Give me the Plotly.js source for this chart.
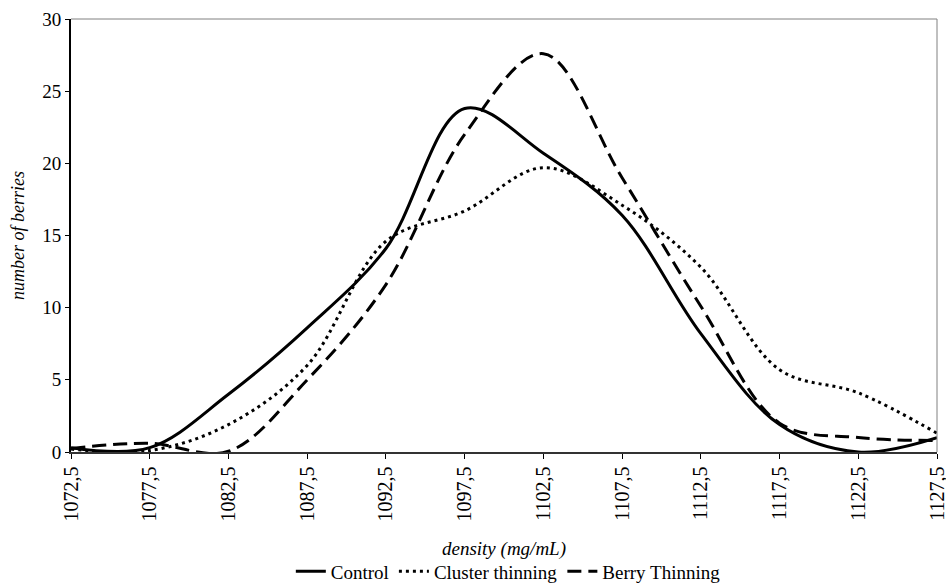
<!DOCTYPE html>
<html>
<head>
<meta charset="utf-8">
<script src="https://cdn.plot.ly/plotly-3.0.1.min.js"></script>
<style>html,body{margin:0;padding:0;background:#fff;}#chart{width:946px;height:584px;}</style>
</head>
<body>
<div id="chart"></div>
<script>
// density bins (mg/mL)
const density = [1072.5, 1077.5, 1082.5, 1087.5, 1092.5, 1097.5, 1102.5, 1107.5, 1112.5, 1117.5, 1122.5, 1127.5];
const tickLabels = ["1072,5", "1077,5", "1082,5", "1087,5", "1092,5", "1097,5", "1102,5", "1107,5", "1112,5", "1117,5", "1122,5", "1127,5"];
const control = [0.3, 0.3, 4.0, 8.6, 14.1, 23.8, 20.7, 16.4, 8.2, 1.9, 0.0, 1.0];
const clusterThinning = [0.2, 0.1, 1.9, 6.0, 14.6, 16.7, 19.7, 17.1, 12.8, 5.7, 4.1, 1.3];
const berryThinning = [0.25, 0.6, 0.05, 5.0, 11.6, 22.0, 27.6, 19.0, 10.1, 2.0, 1.0, 0.8];
const yTicks = [0, 5, 10, 15, 20, 25, 30];

const serif = "Liberation Serif";

const traces = [
  {x: density, y: control, name: "Control", type: "scatter", mode: "lines",
   line: {color: "#000", width: 3, shape: "spline", smoothing: 1, dash: "solid"}},
  {x: density, y: clusterThinning, name: "Cluster thinning", type: "scatter", mode: "lines",
   line: {color: "#000", width: 3, shape: "spline", smoothing: 1, dash: "3px,4px"}},
  {x: density, y: berryThinning, name: "Berry Thinning", type: "scatter", mode: "lines",
   line: {color: "#000", width: 3, shape: "spline", smoothing: 1, dash: "14px,7px"}}
];

const layout = {
  width: 946, height: 584,
  margin: {l: 71, r: 9, t: 19, b: 132, autoexpand: false},
  paper_bgcolor: "#fff", plot_bgcolor: "#fff",
  font: {family: serif, color: "#000", size: 19},
  showlegend: true,
  legend: {orientation: "h", x: 0.505, xanchor: "center", y: -0.276, yanchor: "middle",
           font: {family: serif, size: 19, color: "#000"}, itemwidth: 30, tracegroupgap: 0},
  xaxis: {
    range: [1072.5, 1127.5001], tickvals: density, ticktext: tickLabels, tickangle: -90,
    ticks: "outside", ticklen: 5, tickwidth: 1, tickcolor: "#000",
    showline: true, linecolor: "#333", linewidth: 1.5, ticklabeloverflow: "allow",
    showgrid: false, zeroline: false, automargin: false,
    tickfont: {family: serif, size: 20, color: "#000"},
    title: {text: "<i>density (mg/mL)</i>", font: {family: serif, size: 19, color: "#000"}, standoff: 21}
  },
  yaxis: {
    range: [0, 30], tickvals: yTicks,
    ticks: "outside", ticklen: 4, tickwidth: 1, tickcolor: "#000",
    showline: true, linecolor: "#000", linewidth: 2,
    showgrid: false, zeroline: false, automargin: false,
    tickfont: {family: serif, size: 19, color: "#000"},
    title: {text: "<i>number of berries</i>", font: {family: serif, size: 18, color: "#000"}}
  },
  xaxis2: {overlaying: "x", anchor: "y", side: "bottom", range: [1072.5, 1127.5001], tickvals: density,
    ticks: "inside", ticklen: 5, tickwidth: 1, tickcolor: "#000", showticklabels: false,
    showline: false, showgrid: false, zeroline: false},
  yaxis2: {overlaying: "y", anchor: "x", side: "left", range: [0, 30], tickvals: yTicks,
    ticks: "inside", ticklen: 4, tickwidth: 1, tickcolor: "#000", showticklabels: false,
    showline: false, showgrid: false, zeroline: false},
  shapes: [
    {type: "line", xref: "paper", yref: "paper", x0: 0, x1: 1, y0: 1, y1: 1, line: {color: "#808080", width: 1}},
    {type: "line", xref: "paper", yref: "paper", x0: 1, x1: 1, y0: 0, y1: 1, line: {color: "#808080", width: 1}}
  ]
};

Plotly.newPlot("chart", traces, layout, {displayModeBar: false, staticPlot: true});
</script>
</body>
</html>
